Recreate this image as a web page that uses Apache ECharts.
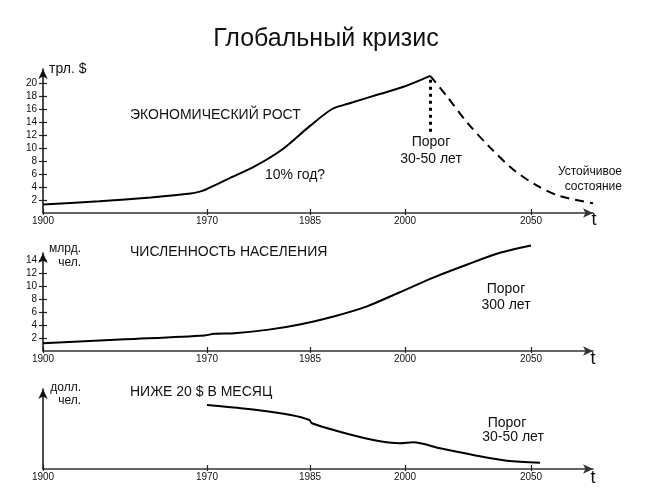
<!DOCTYPE html>
<html><head><meta charset="utf-8">
<script src="https://cdn.jsdelivr.net/npm/echarts@6/dist/echarts.min.js"></script>
<style>html,body{margin:0;padding:0;background:#fff}#c{width:649px;height:488px}</style>
</head><body><div id="c"></div>
<script>
// ---- time scale (piecewise, as drawn in the original) ----
const scaleYears = [1900, 1970, 1985, 2000, 2050];
const scaleUnits = [0, 164, 267, 362, 488];
const tickYears = [1900, 1970, 1985, 2000, 2050];
const axisEndUnit = 550;

// ---- y ticks ----
const econTicks = [2, 4, 6, 8, 10, 12, 14, 16, 18, 20];
const popTicks = [2, 4, 6, 8, 10, 12, 14];

// ---- economic growth (trillion $) ----
const econYears = [1900, 1924, 1946, 1963, 1968, 1970, 1973, 1977, 1981, 1985, 1988.5, 1991, 1996, 2000, 2010];
const econVals  = [1.3, 1.8, 2.4, 3.0, 3.4, 3.7, 5.2, 7.2, 9.8, 13.4, 16.0, 16.8, 18.3, 19.5, 21.1];
// ---- projected decline (dashed) ----
const declineYears = [2010, 2016.5, 2024.5, 2033.7, 2042.9, 2052.4, 2061.5, 2074.6];
const declineVals  = [21.1, 18.0, 14.0, 10.1, 6.7, 4.2, 2.6, 1.5];
// ---- threshold dotted marker: year, from value, to value ----
const thresholdMark = [2010, 20.5, 12.4];

// ---- population (bn people) ----
const popYears = [1900, 1935, 1969, 1971, 1974, 1979, 1983.5, 1988.6, 1994, 1999, 2011, 2025, 2038, 2050];
const popVals  = [1.2, 1.8, 2.4, 2.65, 2.75, 3.3, 4.1, 5.3, 6.9, 9.0, 11.3, 13.4, 15.2, 16.3];

// ---- people below $20 a month (relative units) ----
const povYears = [1970, 1977.3, 1982.2, 1984.9, 1985.3, 1989.7, 1995, 1999.2, 2003.3, 2013.9, 2027.1, 2040.4, 2053.6];
const povVals  = [64, 59, 54, 49, 45.7, 37.3, 29, 25.7, 26.7, 20.7, 14, 8.3, 6.3];

function xpos(year) {
  let i = 0;
  while (i < scaleYears.length - 2 && year > scaleYears[i + 1]) i++;
  const y0 = scaleYears[i], y1 = scaleYears[i + 1];
  const u0 = scaleUnits[i], u1 = scaleUnits[i + 1];
  return u0 + (year - y0) * (u1 - u0) / (y1 - y0);
}
const tickUnits = tickYears.map(xpos);
function yearLabel(v) {
  for (let i = 0; i < tickUnits.length; i++) if (Math.abs(tickUnits[i] - v) < 0.01) return String(tickYears[i]);
  return '';
}
const pts = (ys, vs) => ys.map((y, i) => [xpos(y), vs[i]]);

const FONT = '"Liberation Sans", Arial, sans-serif';
const AX = '#222';

function xAx(g, inside) {
  return {
    type: 'value', gridIndex: g, min: 0, max: axisEndUnit, position: 'bottom',
    axisLine: { show: !inside, onZero: false, lineStyle: { color: '#333', width: 1.5 }, symbol: ['none', 'arrow'], symbolSize: [7, 10] },
    axisTick: { show: true, inside: inside, length: inside ? 4 : 2, customValues: tickUnits, lineStyle: { color: AX, width: 1.2 } },
    axisLabel: { show: !inside, customValues: tickUnits, formatter: yearLabel, fontSize: 10, margin: 3, color: '#111', fontFamily: FONT },
    splitLine: { show: false }
  };
}
function yAx(g, max, ticks, inside, arrowOnly) {
  return {
    type: 'value', gridIndex: g, min: 0, max: max, position: 'left',
    axisLine: { show: !inside, onZero: false, lineStyle: { color: '#111', width: 1.5 }, symbol: ['none', 'arrow'], symbolSize: [7, 10] },
    axisTick: { show: !arrowOnly, inside: inside, length: 4, customValues: ticks, lineStyle: { color: AX, width: 1.2 } },
    axisLabel: { show: !inside && !arrowOnly, customValues: ticks, fontSize: 10, margin: 6, color: '#111', fontFamily: FONT },
    splitLine: { show: false }
  };
}

function txt(x, y, text, size, align) {
  return { type: 'text', x: x, y: y, silent: true,
    style: { text: text, fontSize: size, fontFamily: FONT, fill: '#111', textAlign: align || 'left', textVerticalAlign: 'middle' } };
}

const lineBase = { type: 'line', smooth: 0.3, symbol: 'none', clip: false };

const option = {
  animation: false,
  backgroundColor: '#fff',
  grid: [
    { left: 43, top: 69, width: 550, height: 144 },
    { left: 43, top: 253, width: 550, height: 98 },
    { left: 43, top: 389, width: 550, height: 80 }
  ],
  xAxis: [xAx(0, false), xAx(0, true), xAx(1, false), xAx(1, true), xAx(2, false), xAx(2, true)],
  yAxis: [
    yAx(0, 144 / 6.5, econTicks, false, false), yAx(0, 144 / 6.5, econTicks, true, false),
    yAx(1, 98 / 6.475, popTicks, false, false), yAx(1, 98 / 6.475, popTicks, true, false),
    yAx(2, 80, [], false, true)
  ],
  series: [
    Object.assign({}, lineBase, { xAxisIndex: 0, yAxisIndex: 0, data: pts(econYears, econVals),
      lineStyle: { color: '#000', width: 2 },
      markLine: { silent: true, symbol: ['none', 'none'], label: { show: false },
        lineStyle: { color: '#000', width: 3, type: [3, 4], cap: 'butt' },
        data: [[{ coord: [xpos(thresholdMark[0]), thresholdMark[1]] }, { coord: [xpos(thresholdMark[0]), thresholdMark[2]] }]] } }),
    Object.assign({}, lineBase, { xAxisIndex: 0, yAxisIndex: 0, data: pts(declineYears, declineVals),
      lineStyle: { color: '#000', width: 2, type: [9, 6] } }),
    Object.assign({}, lineBase, { xAxisIndex: 2, yAxisIndex: 2, data: pts(popYears, popVals),
      lineStyle: { color: '#000', width: 2 } }),
    Object.assign({}, lineBase, { xAxisIndex: 4, yAxisIndex: 4, data: pts(povYears, povVals),
      lineStyle: { color: '#000', width: 2 } })
  ],
  graphic: [
    txt(326, 39, 'Глобальный кризис', 25, 'center'),
    txt(49, 69, 'трл. $', 14),
    txt(130, 115, 'ЭКОНОМИЧЕСКИЙ РОСТ', 14),
    txt(265, 175, '10% год?', 14),
    txt(431, 142, 'Порог', 14, 'center'),
    txt(431, 159, '30-50 лет', 14, 'center'),
    txt(622, 172, 'Устойчивое', 12, 'right'),
    txt(622, 187, 'состояние', 12, 'right'),
    txt(594, 220, 't', 18, 'center'),
    txt(81, 249, 'млрд.', 12, 'right'),
    txt(81, 263, 'чел.', 12, 'right'),
    txt(130, 252, 'ЧИСЛЕННОСТЬ НАСЕЛЕНИЯ', 14),
    txt(506, 289, 'Порог', 14, 'center'),
    txt(506, 305, '300 лет', 14, 'center'),
    txt(593, 359, 't', 18, 'center'),
    txt(81, 388, 'долл.', 12, 'right'),
    txt(81, 401, 'чел.', 12, 'right'),
    txt(130, 392, 'НИЖЕ 20 $ В МЕСЯЦ', 14),
    txt(507, 423, 'Порог', 14, 'center'),
    txt(513, 437, '30-50 лет', 14, 'center'),
    txt(593, 478, 't', 18, 'center')
  ]
};
echarts.init(document.getElementById('c'), null, { renderer: 'canvas' }).setOption(option);
</script>
</body></html>
